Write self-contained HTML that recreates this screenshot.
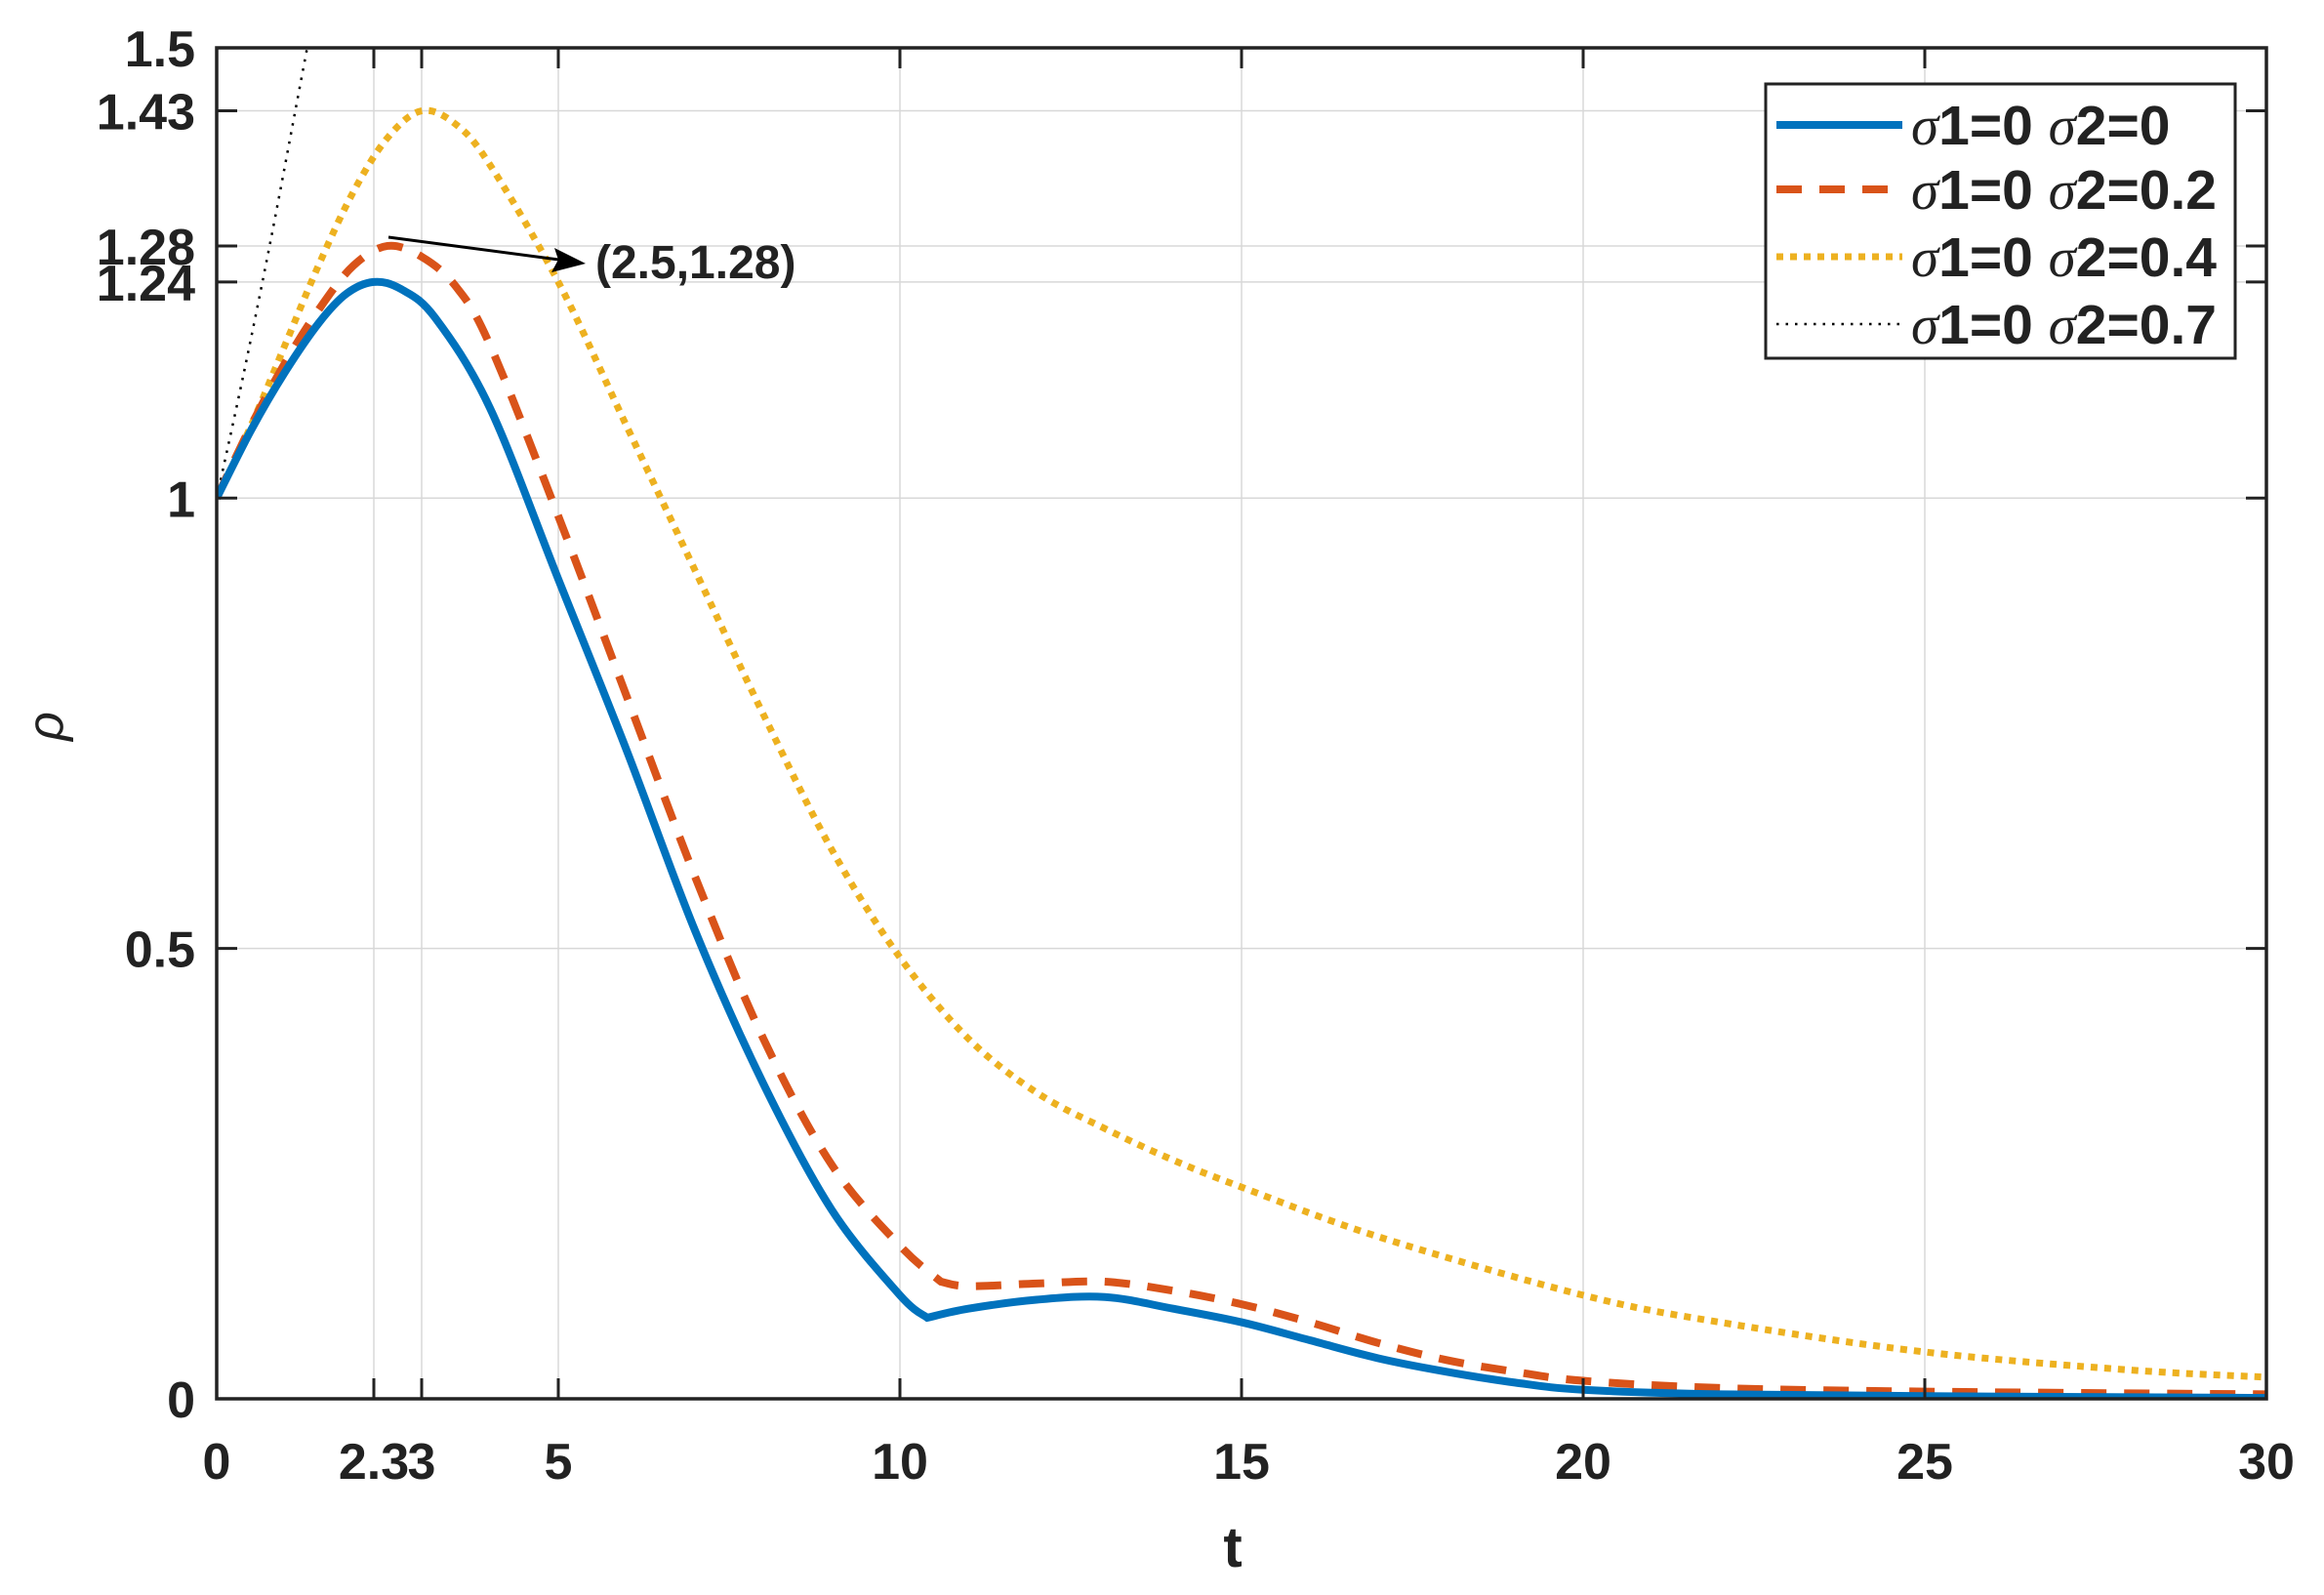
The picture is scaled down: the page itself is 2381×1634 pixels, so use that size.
<!DOCTYPE html>
<html><head><meta charset="utf-8"><style>
html,body{margin:0;padding:0;background:#fff;}
svg{display:block;}
text{font-family:"Liberation Sans",sans-serif;}
</style></head><body>
<svg id="s" width="2381" height="1634" viewBox="0 0 2381 1634" xmlns="http://www.w3.org/2000/svg">
<rect width="2381" height="1634" fill="#fff"/>
<defs><clipPath id="c"><rect x="222" y="49" width="2100" height="1384"/></clipPath></defs>
<g id="grid" stroke="#d8d8d8" stroke-width="1.5"></g>
<g id="curves" clip-path="url(#c)"></g>
<g id="ticks" stroke="#222" stroke-width="3"></g>
<rect x="222" y="49" width="2100" height="1384" fill="none" stroke="#222" stroke-width="3.5"/>
<g id="labels" font-weight="bold" font-size="52" fill="#222"></g>
<text x="1263" y="1605" font-size="58" font-weight="bold" text-anchor="middle" fill="#222">t</text>
<text transform="translate(64,744) rotate(-90)" font-size="52" font-style="italic" text-anchor="middle" fill="#222" font-family="Liberation Serif, serif">ρ</text>
<line x1="398" y1="243" x2="580" y2="267" stroke="#000" stroke-width="3"/>
<polygon points="600,270 568,254 572,266 565,279" fill="#000"/>
<text x="610" y="285" font-size="48" font-weight="bold" fill="#222">(2.5,1.28)</text>
<rect x="1809" y="86" width="481" height="281" fill="#fff" stroke="#222" stroke-width="3"/>
<g id="leg"></g>
</svg>
<script>
var NS="http://www.w3.org/2000/svg";
function X(t){return 222+70*t;}
function Y(v){return 1433-922.7*v;}
function el(p,tag,a){var e=document.createElementNS(NS,tag);for(var k in a)e.setAttribute(k,a[k]);document.getElementById(p).appendChild(e);return e;}
var xt=[0,2.3,3,5,10,15,20,25,30], yt=[0,0.5,1,1.24,1.28,1.43,1.5];
xt.forEach(function(t){if(t>0&&t<30)el("grid","line",{x1:X(t),x2:X(t),y1:49,y2:1433});
 el("ticks","line",{x1:X(t),x2:X(t),y1:1433,y2:1412});el("ticks","line",{x1:X(t),x2:X(t),y1:49,y2:70});});
yt.forEach(function(v){if(v>0&&v<1.5)el("grid","line",{x1:222,x2:2322,y1:Y(v),y2:Y(v)});
 el("ticks","line",{x1:222,x2:243,y1:Y(v),y2:Y(v)});el("ticks","line",{x1:2322,x2:2301,y1:Y(v),y2:Y(v)});});
var xl=[["0",0],["2.3",2.3],["3",3],["5",5],["10",10],["15",15],["20",20],["25",25],["30",30]];
xl.forEach(function(a){var e=el("labels","text",{x:X(a[1]),y:1515,"text-anchor":"middle"});e.textContent=a[0];});
var yl=[["0",0],["0.5",0.5],["1",1],["1.24",1.24],["1.28",1.28],["1.43",1.43],["1.5",1.5]];
yl.forEach(function(a){var e=el("labels","text",{x:200,y:Y(a[1])+19,"text-anchor":"end"});e.textContent=a[0];});
function cr(pts){var p=pts.map(function(q){return [X(q[0]),Y(q[1])];});var d="M"+p[0][0]+","+p[0][1];
 for(var i=0;i<p.length-1;i++){var p0=p[i-1]||p[i],p1=p[i],p2=p[i+1],p3=p[i+2]||p2;
  var c1=[p1[0]+(p2[0]-p0[0])/6,p1[1]+(p2[1]-p0[1])/6],c2=[p2[0]-(p3[0]-p1[0])/6,p2[1]-(p3[1]-p1[1])/6];
  d+=" C"+c1+" "+c2+" "+p2;}return d;}
var yel=[[0,1],[0.5,1.08],[1,1.17],[1.5,1.26],[2,1.34],[2.5,1.4],[3,1.43],[3.5,1.415],[4,1.37],[5,1.24],[6,1.08],[7,0.92],[8,0.76],[9,0.61],[10,0.49],[11,0.4],[12,0.34],[13,0.3],[14,0.265],[15,0.235],[17,0.18],[20,0.115],[22,0.085],[25,0.052],[28,0.032],[30,0.024]];
var red1=[[0,1],[0.5,1.08],[1,1.15],[1.5,1.21],[2,1.258],[2.5,1.28],[3,1.268],[3.5,1.235],[4,1.17],[5,0.98],[6,0.78],[7,0.58],[8,0.4],[9,0.26],[10,0.17],[10.6,0.13]];
var red2=[[10.6,0.13],[11,0.125],[12,0.128],[13,0.13],[14,0.12],[15,0.105],[16,0.085],[17,0.062],[18,0.043],[19,0.03],[20,0.02],[22,0.012],[25,0.008],[30,0.005]];
var b1=[[0,1],[0.5,1.075],[1,1.14],[1.5,1.195],[1.9,1.227],[2.3,1.24],[2.7,1.232],[3.2,1.2],[4,1.1],[5,0.91],[6,0.72],[7,0.52],[8,0.35],[9,0.21],[10,0.115],[10.4,0.09]];
var b2=[[10.4,0.09],[11,0.1],[12,0.11],[13,0.113],[14,0.1],[15,0.085],[16,0.065],[17,0.045],[18,0.03],[19,0.018],[20,0.01],[22,0.005],[25,0.003],[30,0.001]];
var blk=[[0,1],[0.4,1.14],[0.8,1.29],[1.2,1.45],[1.4,1.53]];
el("curves","path",{d:cr(blk),fill:"none",stroke:"#000","stroke-width":2.5,"stroke-dasharray":"2.5 7"});
el("curves","path",{d:cr(yel),fill:"none",stroke:"#EDB120","stroke-width":7,"stroke-dasharray":"7 7"});
el("curves","path",{d:cr(red1)+" "+cr(red2).replace("M","L"),fill:"none",stroke:"#D95319","stroke-width":8,"stroke-dasharray":"26 18"});
el("curves","path",{d:cr(b1)+" "+cr(b2).replace("M","L"),fill:"none",stroke:"#0072BD","stroke-width":8});
var L=[["#0072BD",8,"none","0"],["#D95319",8,"26 18","0.2"],["#EDB120",7,"7 7","0.4"],["#000",2.5,"2.5 7","0.7"]];
var ry=[128,194,263,332];
L.forEach(function(a,i){el("leg","line",{x1:1820,x2:1949,y1:ry[i],y2:ry[i],stroke:a[0],"stroke-width":a[1],"stroke-dasharray":a[2]});
 var t=el("leg","text",{x:1958,y:ry[i]+20,"font-size":57,"font-weight":"bold",fill:"#222"});
 t.innerHTML='<tspan font-style="italic" font-weight="normal" font-family="Liberation Serif, serif">σ</tspan>1=0 <tspan font-style="italic" font-weight="normal" font-family="Liberation Serif, serif">σ</tspan>2='+a[3];});
</script>
</body></html>
